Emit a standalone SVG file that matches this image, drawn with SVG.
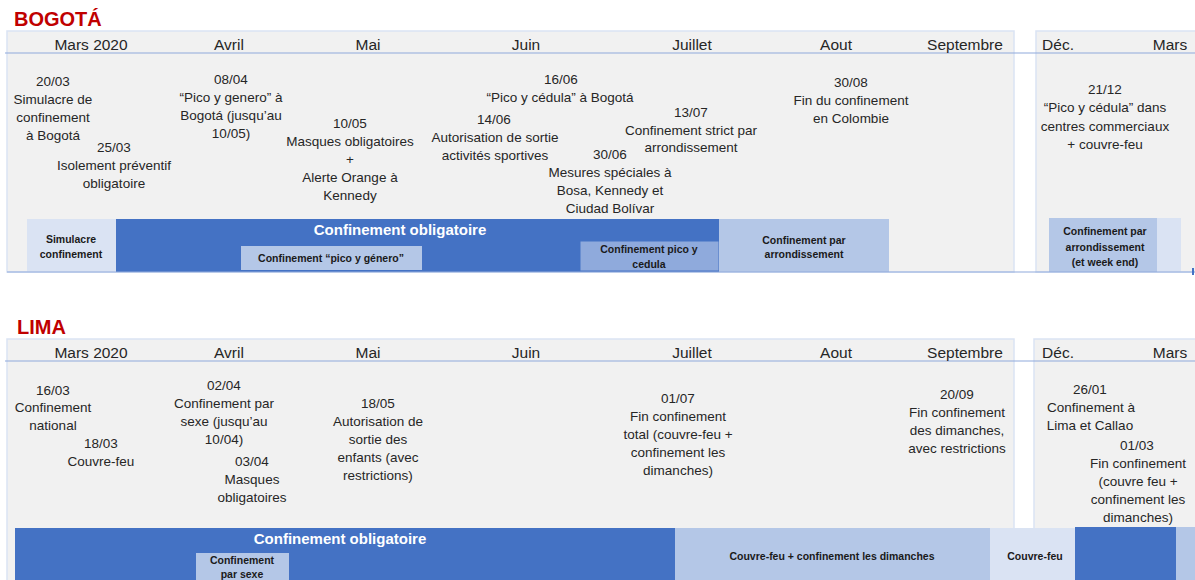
<svg xmlns="http://www.w3.org/2000/svg" width="1195" height="580" viewBox="0 0 1195 580">
<style>
text{font-family:"Liberation Sans",Arial,sans-serif;fill:#262626}
.title{font-size:20px;font-weight:bold;fill:#c00000}
.month{font-size:15.5px;text-anchor:middle}
.ev{font-size:13.5px;text-anchor:middle}
.big{font-size:15px;font-weight:bold;fill:#ffffff;text-anchor:middle}
.sm{font-size:10.5px;font-weight:bold;text-anchor:middle;fill:#1a1a1a}
.panel{fill:#f1f1f1;stroke:#dae3f3;stroke-width:1.5}
.hline{stroke:#8faadc;stroke-width:1.2}
.dark{fill:#4472c4}
.mid{fill:#b4c7e7}
.light{fill:#dae3f3}
.cedula{fill:#8faadc;stroke:#4472c4;stroke-width:1}
</style>
<rect width="1195" height="580" fill="#ffffff"/>

<!-- BOGOTA -->
<g id="bogota">
<text class="title" x="14" y="26">BOGOTÁ</text>
<rect class="panel" x="7" y="31" width="1007" height="241"/>
<rect class="panel" x="1036" y="31" width="165" height="241"/>
<line class="hline" x1="5" y1="53" x2="1195" y2="53"/>
<g id="bogota-months">
<text class="month" x="91" y="50">Mars 2020</text>
<text class="month" x="229" y="50">Avril</text>
<text class="month" x="368" y="50">Mai</text>
<text class="month" x="526" y="50">Juin</text>
<text class="month" x="692" y="50">Juillet</text>
<text class="month" x="836" y="50">Aout</text>
<text class="month" x="965" y="50">Septembre</text>
<text class="month" x="1058" y="50">Déc.</text>
<text class="month" x="1170" y="50">Mars</text>
</g>
<g id="b-ev-2003"><text class="ev" x="53" y="86">20/03</text><text class="ev" x="53" y="104">Simulacre de</text><text class="ev" x="53" y="122">confinement</text><text class="ev" x="53" y="140">à Bogotá</text></g>
<g id="b-ev-2503"><text class="ev" x="114" y="152">25/03</text><text class="ev" x="114" y="170">Isolement préventif</text><text class="ev" x="114" y="188">obligatoire</text></g>
<g id="b-ev-0804"><text class="ev" x="231" y="84">08/04</text><text class="ev" x="231" y="102">“Pico y genero” à</text><text class="ev" x="231" y="120">Bogotá (jusqu’au</text><text class="ev" x="231" y="138">10/05)</text></g>
<g id="b-ev-1005"><text class="ev" x="350" y="128">10/05</text><text class="ev" x="350" y="146">Masques obligatoires</text><text class="ev" x="350" y="164">+</text><text class="ev" x="350" y="182">Alerte Orange à</text><text class="ev" x="350" y="200">Kennedy</text></g>
<g id="b-ev-1606"><text class="ev" x="561" y="84">16/06</text><text class="ev" x="560" y="102">“Pico y cédula” à Bogotá</text></g>
<g id="b-ev-1406"><text class="ev" x="494" y="124">14/06</text><text class="ev" x="495" y="142">Autorisation de sortie</text><text class="ev" x="495" y="160">activités sportives</text></g>
<g id="b-ev-1307"><text class="ev" x="691" y="117">13/07</text><text class="ev" x="691" y="135">Confinement strict par</text><text class="ev" x="691" y="152">arrondissement</text></g>
<g id="b-ev-3006"><text class="ev" x="610" y="159">30/06</text><text class="ev" x="610" y="177">Mesures spéciales à</text><text class="ev" x="610" y="195">Bosa, Kennedy et</text><text class="ev" x="610" y="213">Ciudad Bolívar</text></g>
<g id="b-ev-3008"><text class="ev" x="851" y="87">30/08</text><text class="ev" x="851" y="105">Fin du confinement</text><text class="ev" x="851" y="123">en Colombie</text></g>
<g id="b-ev-2112"><text class="ev" x="1105" y="94">21/12</text><text class="ev" x="1105" y="112">“Pico y cédula” dans</text><text class="ev" x="1105" y="131">centres commerciaux</text><text class="ev" x="1105" y="149">+ couvre-feu</text></g>

<g id="b-bar-simulacre"><rect class="light" x="27" y="219" width="89" height="53"/><text class="sm" x="71" y="243">Simulacre</text><text class="sm" x="71" y="258">confinement</text></g>
<g id="b-bar-obligatoire"><rect class="dark" x="116" y="219" width="603" height="53"/><text class="big" x="400" y="235">Confinement obligatoire</text></g>
<g id="b-bar-genero"><rect class="mid" x="241" y="246" width="181" height="24"/><text class="sm" x="331" y="262">Confinement “pico y género”</text></g>
<g id="b-bar-cedula"><rect class="cedula" x="580" y="241" width="139" height="30"/><text class="sm" x="649" y="253">Confinement pico y</text><text class="sm" x="649" y="268">cedula</text></g>
<g id="b-bar-arrond"><rect class="mid" x="719" y="219" width="170" height="53"/><text class="sm" x="804" y="244">Confinement par</text><text class="sm" x="804" y="258">arrondissement</text></g>
<g id="b-bar-weekend"><rect class="mid" x="1049" y="218" width="108" height="54"/><rect class="light" x="1157" y="218" width="24" height="54"/><text class="sm" x="1105" y="235">Confinement par</text><text class="sm" x="1105" y="251">arrondissement</text><text class="sm" x="1105" y="266">(et week end)</text></g>
<line class="hline" x1="7" y1="272" x2="1195" y2="272"/>
<line x1="1193" y1="268" x2="1193" y2="275" stroke="#4472c4" stroke-width="2"/>
</g>

<!-- LIMA -->
<g id="lima">
<text class="title" x="17" y="334">LIMA</text>
<rect class="panel" x="7" y="339" width="1007" height="250"/>
<rect class="panel" x="1034" y="339" width="167" height="250"/>
<line class="hline" x1="5" y1="361" x2="1195" y2="361"/>
<g id="lima-months">
<text class="month" x="91" y="358">Mars 2020</text>
<text class="month" x="229" y="358">Avril</text>
<text class="month" x="368" y="358">Mai</text>
<text class="month" x="526" y="358">Juin</text>
<text class="month" x="692" y="358">Juillet</text>
<text class="month" x="836" y="358">Aout</text>
<text class="month" x="965" y="358">Septembre</text>
<text class="month" x="1058" y="358">Déc.</text>
<text class="month" x="1170" y="358">Mars</text>
</g>
<g id="l-ev-1603"><text class="ev" x="53" y="395">16/03</text><text class="ev" x="53" y="412">Confinement</text><text class="ev" x="53" y="430">national</text></g>
<g id="l-ev-1803"><text class="ev" x="101" y="448">18/03</text><text class="ev" x="101" y="466">Couvre-feu</text></g>
<g id="l-ev-0204"><text class="ev" x="224" y="390">02/04</text><text class="ev" x="224" y="408">Confinement par</text><text class="ev" x="224" y="426">sexe (jusqu’au</text><text class="ev" x="224" y="444">10/04)</text></g>
<g id="l-ev-0304"><text class="ev" x="252" y="466">03/04</text><text class="ev" x="252" y="484">Masques</text><text class="ev" x="252" y="502">obligatoires</text></g>
<g id="l-ev-1805"><text class="ev" x="378" y="408">18/05</text><text class="ev" x="378" y="426">Autorisation de</text><text class="ev" x="378" y="444">sortie des</text><text class="ev" x="378" y="462">enfants (avec</text><text class="ev" x="378" y="480">restrictions)</text></g>
<g id="l-ev-0107"><text class="ev" x="678" y="403">01/07</text><text class="ev" x="678" y="421">Fin confinement</text><text class="ev" x="678" y="439">total (couvre-feu +</text><text class="ev" x="678" y="457">confinement les</text><text class="ev" x="678" y="475">dimanches)</text></g>
<g id="l-ev-2009"><text class="ev" x="957" y="399">20/09</text><text class="ev" x="957" y="417">Fin confinement</text><text class="ev" x="957" y="435">des dimanches,</text><text class="ev" x="957" y="453">avec restrictions</text></g>
<g id="l-ev-2601"><text class="ev" x="1090" y="394">26/01</text><text class="ev" x="1091" y="412">Confinement à</text><text class="ev" x="1090" y="430">Lima et Callao</text></g>
<g id="l-ev-0103"><text class="ev" x="1137" y="450">01/03</text><text class="ev" x="1138" y="468">Fin confinement</text><text class="ev" x="1138" y="486">(couvre feu +</text><text class="ev" x="1138" y="504">confinement les</text><text class="ev" x="1138" y="522">dimanches)</text></g>

<g id="l-bar-obligatoire"><rect class="dark" x="15" y="528" width="660" height="52"/><text class="big" x="340" y="544">Confinement obligatoire</text></g>
<g id="l-bar-sexe"><rect class="mid" x="196" y="553" width="93" height="27"/><text class="sm" x="242" y="564">Confinement</text><text class="sm" x="242" y="578">par sexe</text></g>
<g id="l-bar-dimanches"><rect class="mid" x="675" y="528" width="315" height="52"/><text class="sm" x="832" y="560">Couvre-feu + confinement les dimanches</text></g>
<g id="l-bar-couvrefeu"><rect class="light" x="990" y="528" width="85" height="52"/><text class="sm" x="1035" y="560">Couvre-feu</text></g>
<g id="l-bar-2021"><rect class="dark" x="1075" y="527" width="101" height="53"/><rect class="mid" x="1176" y="527" width="19" height="53"/></g>
</g>
<g id="connectors"/>
</svg>
